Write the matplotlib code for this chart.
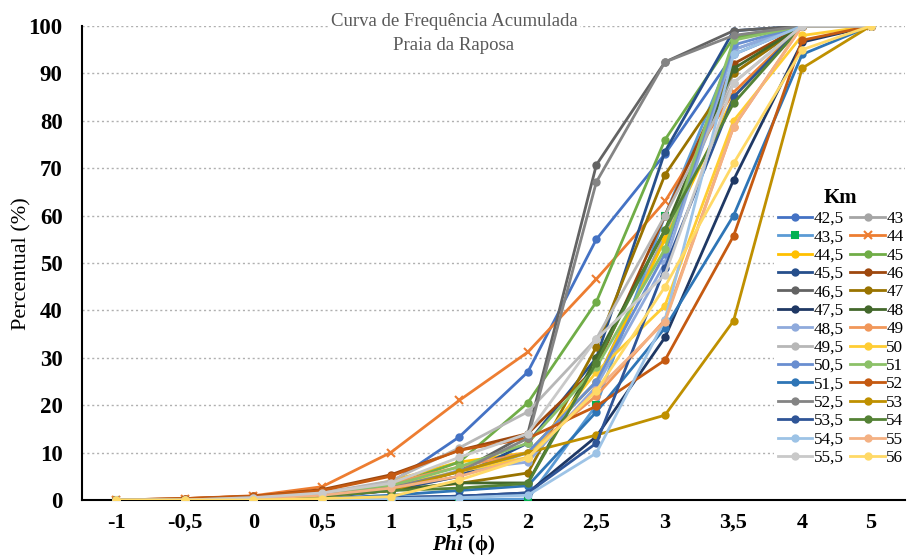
import matplotlib
matplotlib.use("Agg")
import matplotlib.pyplot as plt

plt.rcParams['font.family'] = ['Liberation Serif', 'DejaVu Serif']
plt.rcParams['mathtext.fontset'] = 'custom'
plt.rcParams['mathtext.it'] = 'Liberation Serif:italic:bold'

phi_labels = ['-1', '-0,5', '0', '0,5', '1', '1,5', '2', '2,5', '3', '3,5', '4', '5']
km_labels = ['42,5', '43', '43,5', '44', '44,5', '45', '45,5', '46', '46,5', '47',
             '47,5', '48', '48,5', '49', '49,5', '50', '50,5', '51', '51,5', '52',
             '52,5', '53', '53,5', '54', '54,5', '55', '55,5', '56']

s425 = [0, 0, 0.3, 1.5, 3.5, 13.3, 27.0, 55.0, 73.0, 94.0, 100, 100]
s43 = [0, 0, 0.5, 1.0, 2.0, 5.0, 10.0, 25.0, 56.0, 90.0, 100, 100]
s435 = [0, 0, 0, 0, 0, 0, 0.2, 20.0, 60.0, 95.0, 100, 100]
s44 = [0, 0.3, 0.9, 2.8, 10.0, 21.0, 31.2, 46.6, 63.0, 86.0, 100, 100]
s445 = [0, 0, 0.5, 1.0, 4.0, 8.0, 10.0, 25.0, 55.0, 85.0, 100, 100]
s45 = [0, 0, 0.5, 1.0, 3.0, 8.0, 20.5, 41.8, 76.0, 97.5, 100, 100]
s455 = [0, 0, 0, 0.5, 2.0, 5.0, 12.0, 30.0, 73.5, 99.0, 100, 100]
s46 = [0, 0.3, 0.8, 2.2, 5.3, 10.5, 14.0, 28.0, 60.0, 92.0, 100, 100]
s465 = [0, 0, 0.5, 1.0, 2.5, 6.0, 14.0, 70.7, 92.4, 99.0, 100, 100]
s47 = [0, 0, 0.5, 1.0, 2.0, 3.5, 5.7, 32.3, 68.6, 90.0, 100, 100]
s475 = [0, 0, 0, 0, 0.5, 0.8, 1.5, 13.4, 34.3, 67.5, 96.6, 100]
s48 = [0, 0, 0.3, 0.8, 2.0, 3.6, 3.6, 30.0, 57.0, 91.0, 100, 100]
s485 = [0, 0, 0.3, 0.8, 2.1, 6.3, 8.0, 24.0, 50.0, 95.0, 100, 100]
s49 = [0, 0, 0.5, 1.5, 3.5, 7.0, 10.0, 22.0, 38.0, 78.7, 100, 100]
s495 = [0, 0, 0.5, 1.5, 4.0, 11.0, 18.6, 34.0, 60.0, 88.0, 100, 100]
s50 = [0, 0, 0.3, 1.0, 3.0, 6.0, 9.0, 27.0, 41.0, 80.0, 98.0, 100]
s505 = [0, 0, 0.3, 1.0, 2.5, 6.0, 10.0, 25.0, 52.0, 96.0, 100, 100]
s51 = [0, 0, 0.3, 1.0, 3.0, 7.0, 12.0, 28.0, 53.0, 97.0, 100, 100]
s515 = [0, 0, 0, 0.3, 1.0, 2.0, 3.0, 18.6, 36.3, 60.0, 94.0, 100]
s52 = [0, 0.3, 0.8, 2.0, 5.0, 10.5, 13.0, 19.8, 29.5, 55.7, 97.0, 100]
s525 = [0, 0, 0.5, 1.0, 2.5, 6.0, 13.0, 67.1, 92.4, 98.0, 100, 100]
s53 = [0, 0, 0.3, 0.8, 2.0, 6.0, 10.0, 13.7, 17.9, 37.8, 91.1, 100]
s535 = [0, 0, 0, 0, 0.5, 0.8, 1.5, 12.0, 49.0, 85.0, 100, 100]
s54 = [0, 0, 0.3, 0.8, 2.0, 2.5, 3.5, 29.0, 57.0, 83.7, 100, 100]
s545 = [0, 0, 0, 0, 0.3, 0.5, 1.0, 9.9, 38.0, 94.0, 100, 100]
s55 = [0, 0, 0.3, 1.0, 2.5, 5.0, 8.9, 23.2, 37.6, 78.7, 100, 100]
s555 = [0, 0, 0.5, 1.5, 3.5, 9.0, 14.0, 34.0, 47.5, 88.0, 100, 100]
s56 = [0, 0, 0, 0.3, 0.7, 4.2, 8.9, 23.0, 45.0, 71.0, 95.0, 100]

series = [s425, s43, s435, s44, s445, s45, s455, s46, s465, s47, s475, s48, s485, s49,
          s495, s50, s505, s51, s515, s52, s525, s53, s535, s54, s545, s55, s555, s56]

colors = ['#4472C4', '#A5A5A5', '#5B9BD5', '#ED7D31', '#FFC000', '#70AD47',
          '#264F8C', '#9E480E', '#636363', '#997300', '#1F3864', '#43682B',
          '#8FAADC', '#F1975A', '#B7B7B7', '#FFCD33', '#698ED0', '#8CC168',
          '#2E75B6', '#C55A11', '#848484', '#BF9000', '#2F5597', '#548235',
          '#9DC3E6', '#F4B183', '#C9C9C9', '#FFD966']

fig = plt.figure(figsize=(9.07, 5.59), dpi=100)
ax = fig.add_axes([82 / 907, 1 - 500 / 559, (905 - 82) / 907, (500 - 26) / 559])

x = list(range(len(phi_labels)))
handles = []
for lab, vals, col in zip(km_labels, series, colors):
    marker, mfc, ms = 'o', col, 4.5
    if lab == '44':
        marker, ms = 'x', 6
    if lab == '43,5':
        marker, mfc, ms = 's', '#00B050', 5
    ln, = ax.plot(x, vals, color=col, lw=2.0, marker=marker, markersize=ms,
                  markerfacecolor=mfc, markeredgecolor=mfc, markeredgewidth=1.5,
                  label=lab, zorder=3)
    handles.append(ln)

ax.set_xlim(-0.5, len(phi_labels) - 0.5)
ax.set_ylim(0, 100)
ax.set_xticks(x)
ax.set_xticklabels(phi_labels, fontsize=16, fontweight='bold')
ax.set_yticks(range(0, 101, 10))
ax.set_yticklabels([str(v) for v in range(0, 101, 10)], fontsize=16.5, fontweight='bold')
ax.tick_params(axis='both', length=0)
ax.tick_params(axis='y', pad=14)
ax.tick_params(axis='x', pad=9)
ax.yaxis.grid(True, linestyle=(0, (1.5, 2)), color='#B0B0B0', lw=1.0, zorder=0)
ax.set_axisbelow(True)
for s in ['top', 'right']:
    ax.spines[s].set_visible(False)
ax.spines['left'].set_linewidth(1.5)
ax.spines['bottom'].set_linewidth(1.5)

# axis labels
fig.text(22 / 907, 1 - 264 / 559, 'Percentual (%)', rotation=90, ha='center', va='center',
         fontsize=16)
fig.text(464 / 907, 2 / 559, r'$\mathit{Phi}$ (ϕ)', ha='center', va='bottom',
         fontsize=15, fontweight='bold')

# title
fig.text(454 / 907, 1 - 22 / 559, 'Curva de Frequência Acumulada', ha='center', va='center',
         fontsize=13.5, color='#595959',
         bbox=dict(facecolor='white', edgecolor='none', pad=2))
fig.text(454 / 907, 1 - 45 / 559, 'Praia da Raposa', ha='center', va='center',
         fontsize=13.5, color='#595959')

# legend (row-major order in two columns)
order = list(range(0, 28, 2)) + list(range(1, 28, 2))
leg = ax.legend([handles[i] for i in order], [km_labels[i] for i in order],
                ncol=2, loc='upper right', bbox_to_anchor=(907 / 907, 1 - 185 / 559),
                bbox_transform=fig.transFigure, fontsize=12.3, title='Km',
                title_fontproperties={'weight': 'bold', 'size': 15},
                frameon=True, facecolor='white', edgecolor='none', framealpha=1,
                handlelength=2.0, handletextpad=0.1, columnspacing=0.4,
                labelspacing=0.14, borderpad=0.2, borderaxespad=0)
leg.set_zorder(5)

fig.savefig('out.png', dpi=100)
